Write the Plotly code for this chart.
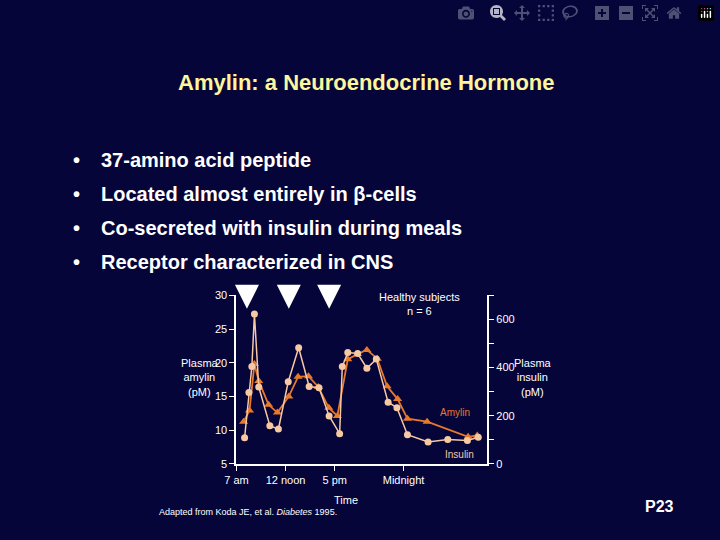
import plotly.graph_objects as go

amylin_hours = [7.73, 8.33, 8.83, 9.27, 10.27, 11.17, 12.33, 13.27, 14.33, 15.33, 16.4, 17.27,
                18.33, 19.33, 20.27, 21.33, 22.33, 23.4, 24.4, 26.4, 30.57, 31.5]
amylin_pm = [11.25, 12.9, 19.8, 17.3, 13.75, 12.6, 15.0, 17.9, 18.0, 16.4, 13.3, 12.1,
             20.5, 21.3, 21.9, 20.6, 16.5, 14.6, 11.7, 11.25, 9.0, 9.2]
insulin_hours = [7.83, 8.27, 8.57, 8.83, 9.27, 10.4, 11.27, 12.27, 13.33, 14.4, 15.4, 16.43, 17.5,
                 17.77, 18.33, 19.33, 20.27, 21.23, 22.43, 23.33, 24.4, 26.5, 28.5, 30.5, 31.6]
insulin_pm = [108, 296, 404, 622, 319, 158, 144, 341, 482, 321, 316, 199, 125,
              404, 462, 458, 397, 435, 256, 233, 121, 91, 101, 97, 110]
x_tickvals = [7, 12, 17, 24]
x_ticktext = ["7 am", "12 noon", "5 pm", "Midnight"]
meal_hours = [8.07, 12.33, 16.43]
bullets = ["37-amino acid peptide", "Located almost entirely in β-cells",
           "Co-secreted with insulin during meals", "Receptor characterized in CNS"]

BG = "#05053a"
AMY = "#e8782a"
INS = "#f7c9a2"
F = "Liberation Sans, Arial, sans-serif"

fig = go.Figure()
fig.add_trace(go.Scatter(x=insulin_hours, y=insulin_pm, yaxis="y2", mode="lines+markers",
                         line=dict(color=INS, width=1.5), marker=dict(color=INS, size=7, symbol="circle"),
                         showlegend=False))
fig.add_trace(go.Scatter(x=amylin_hours, y=amylin_pm, mode="lines+markers",
                         line=dict(color=AMY, width=1.8), marker=dict(color=AMY, size=8, symbol="triangle-up"),
                         showlegend=False))

fig.update_layout(
    width=720, height=540, margin=dict(l=0, r=0, t=0, b=0),
    paper_bgcolor=BG, plot_bgcolor=BG, font=dict(family=F, color="white"),
    xaxis=dict(domain=[0.317, 0.671], range=[7, 32.5], tickvals=x_tickvals, ticktext=x_ticktext,
               showgrid=False, zeroline=False, showline=True, linecolor="white", linewidth=2,
               ticks="outside", tickcolor="white", ticklen=5, tickfont=dict(size=11, color="white"),
               anchor="y"),
    yaxis=dict(domain=[0.133, 0.452], range=[5, 30], tickvals=[5, 10, 15, 20, 25, 30],
               showgrid=False, zeroline=False, showline=True, linecolor="white", linewidth=2,
               ticks="outside", tickcolor="white", ticklen=5, tickfont=dict(size=11, color="white")),
    yaxis2=dict(overlaying="y", side="right", range=[0, 700], tickvals=[0, 100, 200, 300, 400, 500, 600, 700],
                ticktext=["0", "", "200", "", "400", "", "600", ""], showgrid=False, zeroline=False,
                showline=True, linecolor="white", linewidth=2, ticks="outside", tickcolor="white", ticklen=5,
                tickfont=dict(size=11, color="white"), anchor="x"),
)

ann = [
    dict(text="<b>Amylin: a Neuroendocrine Hormone</b>", x=0.5, y=78, font=dict(size=22, color="#fff59a")),
    dict(text="Plasma<br>amylin<br>(pM)", x=170/720, y=380, font=dict(size=11, color="white")),
    dict(text="Plasma<br>insulin<br>(pM)", x=551/720, y=380, font=dict(size=11, color="white")),
    dict(text="Healthy subjects<br>n = 6", x=414/720, y=305, font=dict(size=11, color="white")),
    dict(text="Time", x=340/720, y=505, font=dict(size=11, color="white")),
    dict(text="Adapted from Koda JE, et al. <i>Diabetes</i> 1995.", x=147/720, y=517, font=dict(size=9, color="white")),
    dict(text="<b>P23</b>", x=675/720, y=512, font=dict(size=16, color="white")),
    dict(text="Amylin", x=450/720, y=416, font=dict(size=10, color=AMY)),
    dict(text="Insulin", x=455/720, y=459, font=dict(size=10, color=INS)),
]
for a in ann:
    fig.add_annotation(xref="paper", yref="paper", x=a["x"], y=1 - a["y"] / 540, text=a["text"],
                       showarrow=False, yanchor="middle", font=dict(family=F, **a["font"]))
for i, b in enumerate(bullets):
    y = 1 - (157 + 35 * i) / 540
    fig.add_annotation(xref="paper", yref="paper", x=60 / 720, y=y, text="<b>•</b>", showarrow=False,
                       xanchor="left", yanchor="middle", font=dict(family=F, size=20, color="white"))
    fig.add_annotation(xref="paper", yref="paper", x=88 / 720, y=y, text="<b>" + b + "</b>", showarrow=False,
                       xanchor="left", yanchor="middle", font=dict(family=F, size=20, color="white"))
for h in meal_hours:
    fig.add_annotation(x=h, y=28.0, xref="x", yref="y", ax=0, ay=-20, text="", showarrow=True,
                       arrowhead=2, arrowsize=1.2, arrowwidth=4, arrowcolor="white")

fig.write_html("out.html",
               post_script="document.body.style.margin='0';document.body.style.background='#05053a';")
